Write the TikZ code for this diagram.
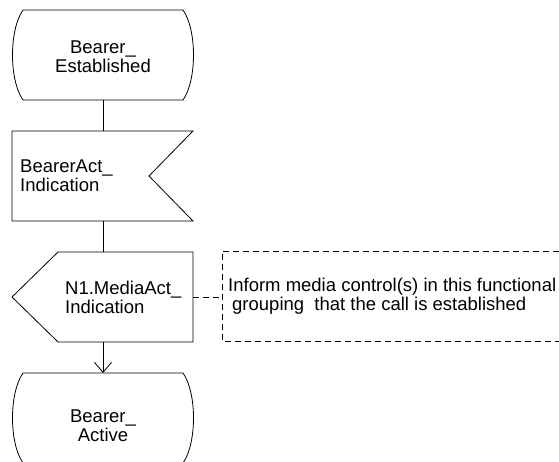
\documentclass[tikz,border=0pt]{standalone}
\usepackage{fontspec}
\setmainfont{Liberation Sans}
\usetikzlibrary{arrows.meta}
\begin{document}
\begin{tikzpicture}[x=1pt,y=-1pt,
  shapeline/.style={draw=black,line width=0.8pt},
  conn/.style={draw=black,line width=0.8pt},
  dashline/.style={draw=black,line width=0.8pt,dash pattern=on 6pt off 4pt},
  txt/.style={inner sep=0pt,font=\fontsize{18.5}{19}\selectfont},
]
\useasboundingbox (0,0) rectangle (559,461);
\clip (0,0) rectangle (559,461);
% state 1
\draw[shapeline] (23,10) -- (183,10) .. controls (197,30) and (197,80) .. (183,100)
  -- (23,100) .. controls (9,80) and (9,30) .. (23,10);
\node[txt,align=center] (s1) at (103,57) {Bearer\_\\Established};
\coordinate (s1b) at (103,100);
% input signal
\draw[shapeline] (12,131) -- (193,131) -- (149,176) -- (193,221) -- (12,221) -- cycle;
\node[txt,align=left,anchor=west] (in1) at (20,176) {BearerAct\_\\Indication};
\coordinate (in1t) at (103,131);
\coordinate (in1b) at (103,221);
% output signal
\draw[shapeline] (58,252) -- (193,252) -- (193,342) -- (58,342) -- (12,297) -- cycle;
\node[txt,align=left,anchor=west] (out1) at (65,297) {N1.MediaAct\_\\Indication};
\coordinate (out1t) at (103,252);
\coordinate (out1b) at (103,342);
\coordinate (out1r) at (193,297);
% comment
\coordinate (cm) at (222,297);
\draw[dashline] (559,251) -- (222,251) -- (222,341) -- (559,341);
\node[txt,align=left,anchor=west] (cmt) at (228,296) {Inform media control(s) in this functional\\\hspace*{4pt}grouping\ \ that the call is established};
% state 2
\draw[shapeline] (23,373) -- (183,373) .. controls (197,393) and (197,443) .. (183,463)
  -- (23,463) .. controls (9,443) and (9,393) .. (23,373);
\node[txt,align=center] (s2) at (103,426) {Bearer\_\\Active};
\coordinate (s2t) at (103,373);
% connectors
\draw[conn] (s1b) -- (in1t);
\draw[conn] (in1b) -- (out1t);
\draw[conn,-{Straight Barb[length=10pt,width=17pt]}] (out1b) -- (s2t);
\draw[dashline] (out1r) -- (cm);
\end{tikzpicture}
\end{document}
